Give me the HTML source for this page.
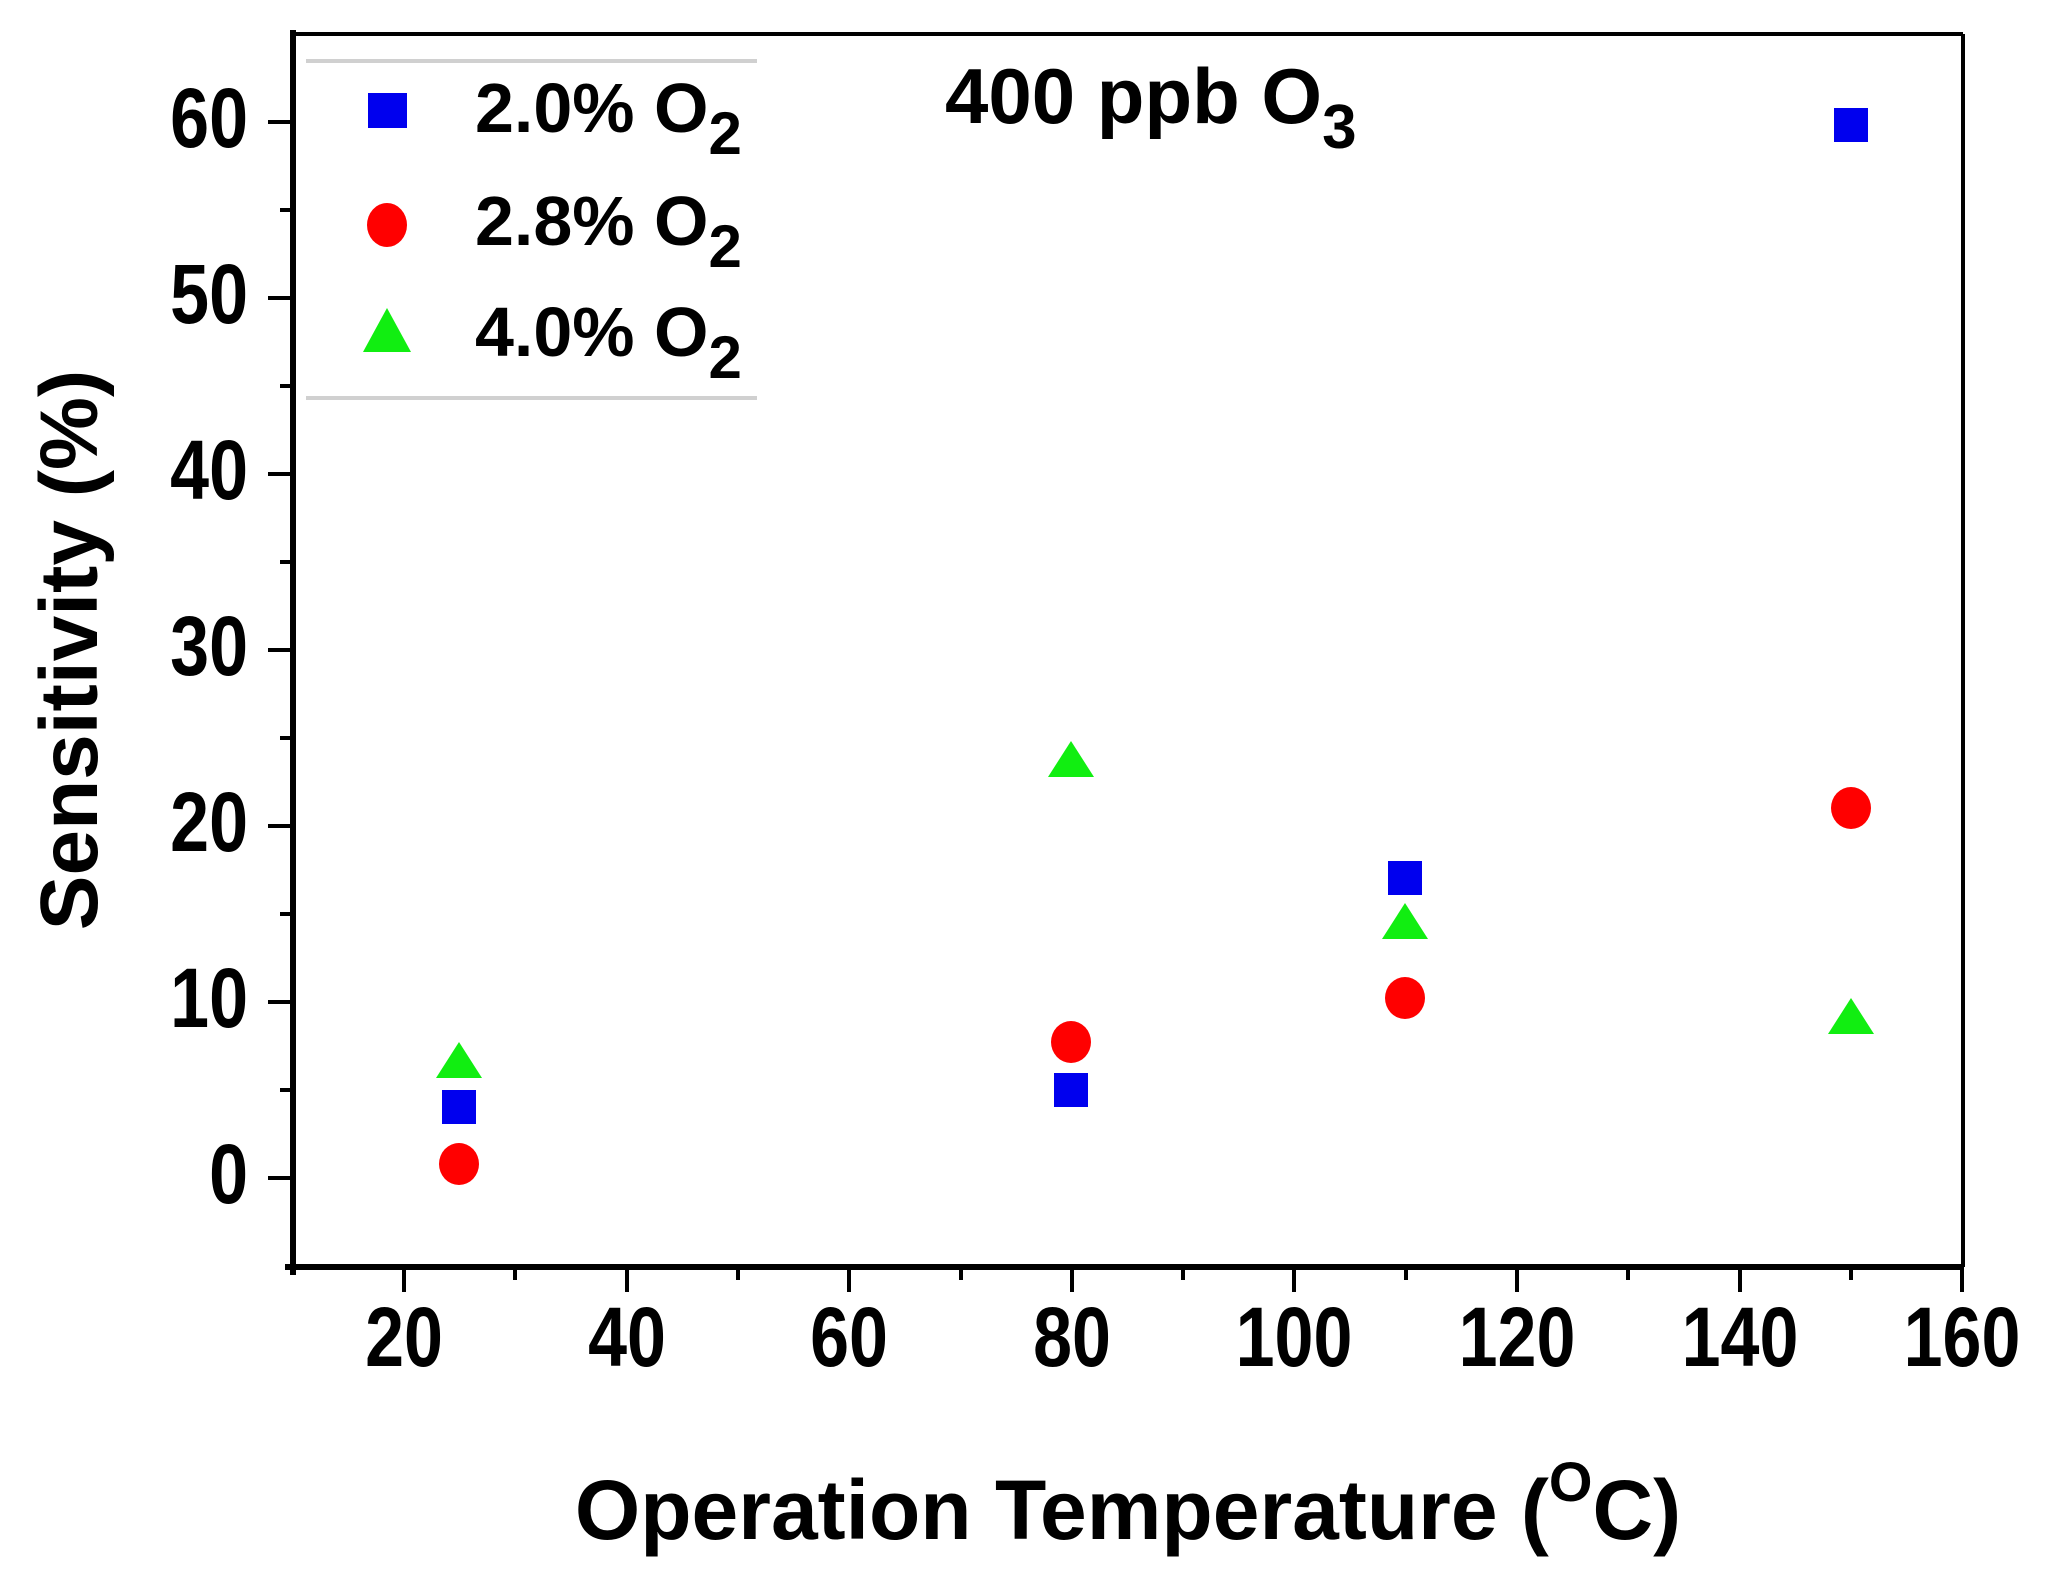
<!DOCTYPE html>
<html><head><meta charset="utf-8"><style>
html,body{margin:0;padding:0;background:#fff;}
svg{display:block;font-family:"Liberation Sans",sans-serif;font-weight:bold;}
</style></head><body>
<svg width="2059" height="1586" viewBox="0 0 2059 1586" xmlns="http://www.w3.org/2000/svg">
<rect width="2059" height="1586" fill="#fff"/>
<line x1="293" y1="34" x2="1963" y2="34" stroke="#000" stroke-width="4"/>
<line x1="1963" y1="34" x2="1963" y2="1267" stroke="#000" stroke-width="4"/>
<line x1="293" y1="30" x2="293" y2="1275" stroke="#000" stroke-width="6"/>
<line x1="285" y1="1267" x2="1963" y2="1267" stroke="#000" stroke-width="6"/>
<g stroke="#000" stroke-width="4">
<line x1="268" y1="1178" x2="293" y2="1178"/>
<line x1="268" y1="1002" x2="293" y2="1002"/>
<line x1="268" y1="826" x2="293" y2="826"/>
<line x1="268" y1="650" x2="293" y2="650"/>
<line x1="268" y1="474" x2="293" y2="474"/>
<line x1="268" y1="298" x2="293" y2="298"/>
<line x1="268" y1="122" x2="293" y2="122"/>
<line x1="280" y1="1090" x2="293" y2="1090"/>
<line x1="280" y1="914" x2="293" y2="914"/>
<line x1="280" y1="738" x2="293" y2="738"/>
<line x1="280" y1="562" x2="293" y2="562"/>
<line x1="280" y1="386" x2="293" y2="386"/>
<line x1="280" y1="210" x2="293" y2="210"/>
</g>
<g font-size="70" text-anchor="end">
<text transform="translate(248,1203) scale(1,1.2)">0</text>
<text transform="translate(248,1027) scale(1,1.2)">10</text>
<text transform="translate(248,851) scale(1,1.2)">20</text>
<text transform="translate(248,675) scale(1,1.2)">30</text>
<text transform="translate(248,499) scale(1,1.2)">40</text>
<text transform="translate(248,323) scale(1,1.2)">50</text>
<text transform="translate(248,147) scale(1,1.2)">60</text>
</g>
<g stroke="#000" stroke-width="4">
<line x1="404" y1="1267" x2="404" y2="1292"/>
<line x1="627" y1="1267" x2="627" y2="1292"/>
<line x1="849" y1="1267" x2="849" y2="1292"/>
<line x1="1072" y1="1267" x2="1072" y2="1292"/>
<line x1="1294" y1="1267" x2="1294" y2="1292"/>
<line x1="1517" y1="1267" x2="1517" y2="1292"/>
<line x1="1740" y1="1267" x2="1740" y2="1292"/>
<line x1="1962" y1="1267" x2="1962" y2="1292"/>
<line x1="515" y1="1267" x2="515" y2="1280"/>
<line x1="738" y1="1267" x2="738" y2="1280"/>
<line x1="961" y1="1267" x2="961" y2="1280"/>
<line x1="1183" y1="1267" x2="1183" y2="1280"/>
<line x1="1406" y1="1267" x2="1406" y2="1280"/>
<line x1="1628" y1="1267" x2="1628" y2="1280"/>
<line x1="1851" y1="1267" x2="1851" y2="1280"/>
</g>
<g font-size="70" text-anchor="middle">
<text transform="translate(404,1366) scale(1,1.2)">20</text>
<text transform="translate(627,1366) scale(1,1.2)">40</text>
<text transform="translate(849,1366) scale(1,1.2)">60</text>
<text transform="translate(1072,1366) scale(1,1.2)">80</text>
<text transform="translate(1294,1366) scale(1,1.2)">100</text>
<text transform="translate(1517,1366) scale(1,1.2)">120</text>
<text transform="translate(1740,1366) scale(1,1.2)">140</text>
<text transform="translate(1962,1366) scale(1,1.2)">160</text>
</g>
<text x="1128" y="1539" font-size="84" text-anchor="middle">Operation Temperature (<tspan font-size="56" dy="-38">O</tspan><tspan dy="38">C)</tspan></text>
<text transform="translate(97,650) rotate(-90)" font-size="82" text-anchor="middle">Sensitivity (%)</text>
<text x="945" y="123" font-size="78">400 ppb O<tspan font-size="62" dy="25">3</tspan></text>
<line x1="306" y1="61" x2="757" y2="61" stroke="#d0d0d0" stroke-width="4"/>
<line x1="306" y1="398" x2="757" y2="398" stroke="#d0d0d0" stroke-width="4"/>
<rect x="368" y="93" width="39" height="35" fill="#0000ee"/>
<ellipse cx="387" cy="225" rx="20" ry="22" fill="#ff0000"/>
<polygon points="387,308 363,352 411,352" fill="#11ee11"/>
<g font-size="70">
<text x="475" y="132">2.0% O<tspan font-size="60" dy="22">2</tspan></text>
<text x="475" y="245">2.8% O<tspan font-size="60" dy="22">2</tspan></text>
<text x="475" y="356">4.0% O<tspan font-size="60" dy="22">2</tspan></text>
</g>
<g fill="#0000ee">
<rect x="442" y="1090" width="34" height="34"/>
<rect x="1054" y="1073" width="34" height="34"/>
<rect x="1388" y="861" width="34" height="34"/>
<rect x="1834" y="108" width="34" height="34"/>
</g>
<g fill="#ff0000">
<ellipse cx="459" cy="1164" rx="20" ry="21"/>
<ellipse cx="1071" cy="1042" rx="20" ry="21"/>
<ellipse cx="1405" cy="998" rx="20" ry="21"/>
<ellipse cx="1851" cy="808" rx="20" ry="21"/>
</g>
<g fill="#11ee11">
<polygon points="459,1042 436,1078 482,1078"/>
<polygon points="1071,741 1048,777 1094,777"/>
<polygon points="1405,903 1382,939 1428,939"/>
<polygon points="1851,998 1828,1034 1874,1034"/>
</g>
</svg>
</body></html>
